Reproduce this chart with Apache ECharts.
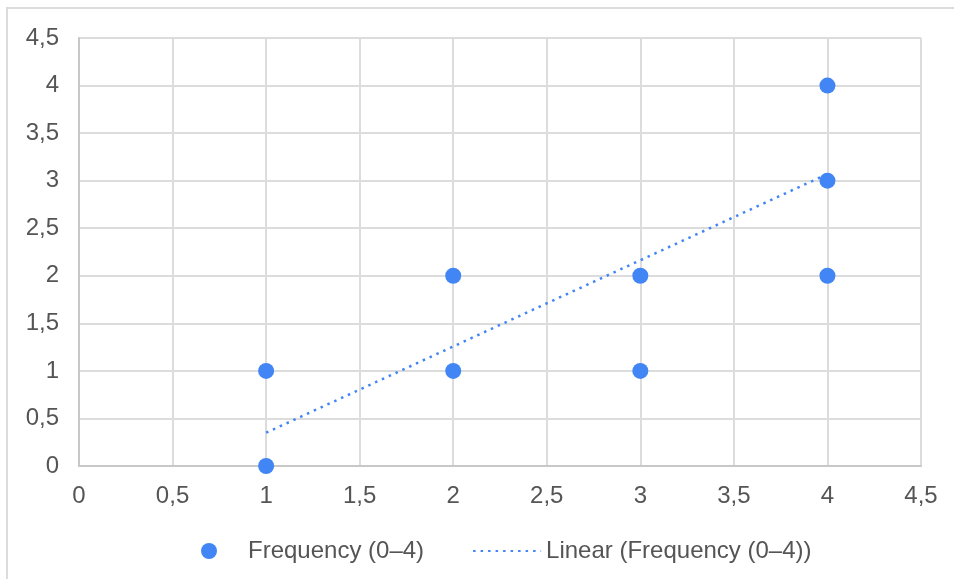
<!DOCTYPE html>
<html>
<head>
<meta charset="utf-8">
<script src="https://cdn.jsdelivr.net/npm/echarts@6/dist/echarts.min.js"></script>
<style>
  html, body { margin: 0; padding: 0; background: #fff; }
  #chart { width: 955px; height: 579px; }
</style>
</head>
<body>
<div id="chart"></div>
<script>
  // data points
  var freqX = [1, 1, 2, 2, 3, 3, 4, 4, 4];
  var freqY = [0, 1, 1, 2, 1, 2, 2, 3, 4];
  // trendline ends as shown
  var trendX = [1, 4];
  var trendY = [0.35, 3.07];

  var seriesName = 'Frequency (0\u20134)';
  var trendName = 'Linear (Frequency (0\u20134))';

  function fmt(v) {
    return String(v).replace('.', ',');
  }

  var myChart = echarts.init(document.getElementById('chart'));
  myChart.setOption({
    animation: false,
    textStyle: { fontFamily: '"Liberation Sans", Arial, sans-serif' },
    graphic: [
      { type: 'line', shape: { x1: 6, y1: 8, x2: 954, y2: 8 }, style: { stroke: '#dcdcdc', lineWidth: 2 } },
      { type: 'line', shape: { x1: 7, y1: 8, x2: 7, y2: 579 }, style: { stroke: '#dcdcdc', lineWidth: 2 } }
    ],
    grid: { left: 79, right: 34, top: 38, bottom: 113 },
    legend: {
      top: 534,
      left: 196,
      itemGap: 48,
      itemWidth: 68,
      itemHeight: 16,
      textStyle: { fontSize: 24, color: '#555' },
      data: [
        { name: seriesName, icon: 'circle', itemStyle: { color: '#4285f4' } },
        // hide the circle the line legend adds, keep the dotted stroke
        { name: trendName, itemStyle: { color: 'rgba(0,0,0,0)', borderColor: 'rgba(0,0,0,0)', borderWidth: 0 } }
      ]
    },
    xAxis: {
      type: 'value',
      min: 0, max: 4.5, interval: 0.5,
      axisLine: { lineStyle: { color: '#c8c8c8', width: 2 } },
      axisTick: { show: false },
      axisLabel: { fontSize: 24, color: '#555', margin: 18, formatter: fmt },
      splitLine: { lineStyle: { color: '#dcdcdc', width: 2 } }
    },
    yAxis: {
      type: 'value',
      min: 0, max: 4.5, interval: 0.5,
      axisLine: { show: true, lineStyle: { color: '#c8c8c8', width: 2 } },
      axisTick: { show: false },
      axisLabel: { fontSize: 24, color: '#555', margin: 20, formatter: fmt },
      splitLine: { lineStyle: { color: '#dcdcdc', width: 2 } }
    },
    series: [
      {
        name: seriesName,
        type: 'scatter',
        symbolSize: 16,
        itemStyle: { color: '#4285f4', opacity: 1 },
        data: freqX.map(function (x, i) { return [x, freqY[i]]; }),
        z: 3
      },
      {
        name: trendName,
        type: 'line',
        symbol: 'none',
        lineStyle: { color: '#4285f4', width: 2.5, type: [2.5, 5] },
        itemStyle: { color: '#4285f4' },
        data: trendX.map(function (x, i) { return [x, trendY[i]]; }),
        z: 2
      }
    ]
  });
</script>
</body>
</html>
